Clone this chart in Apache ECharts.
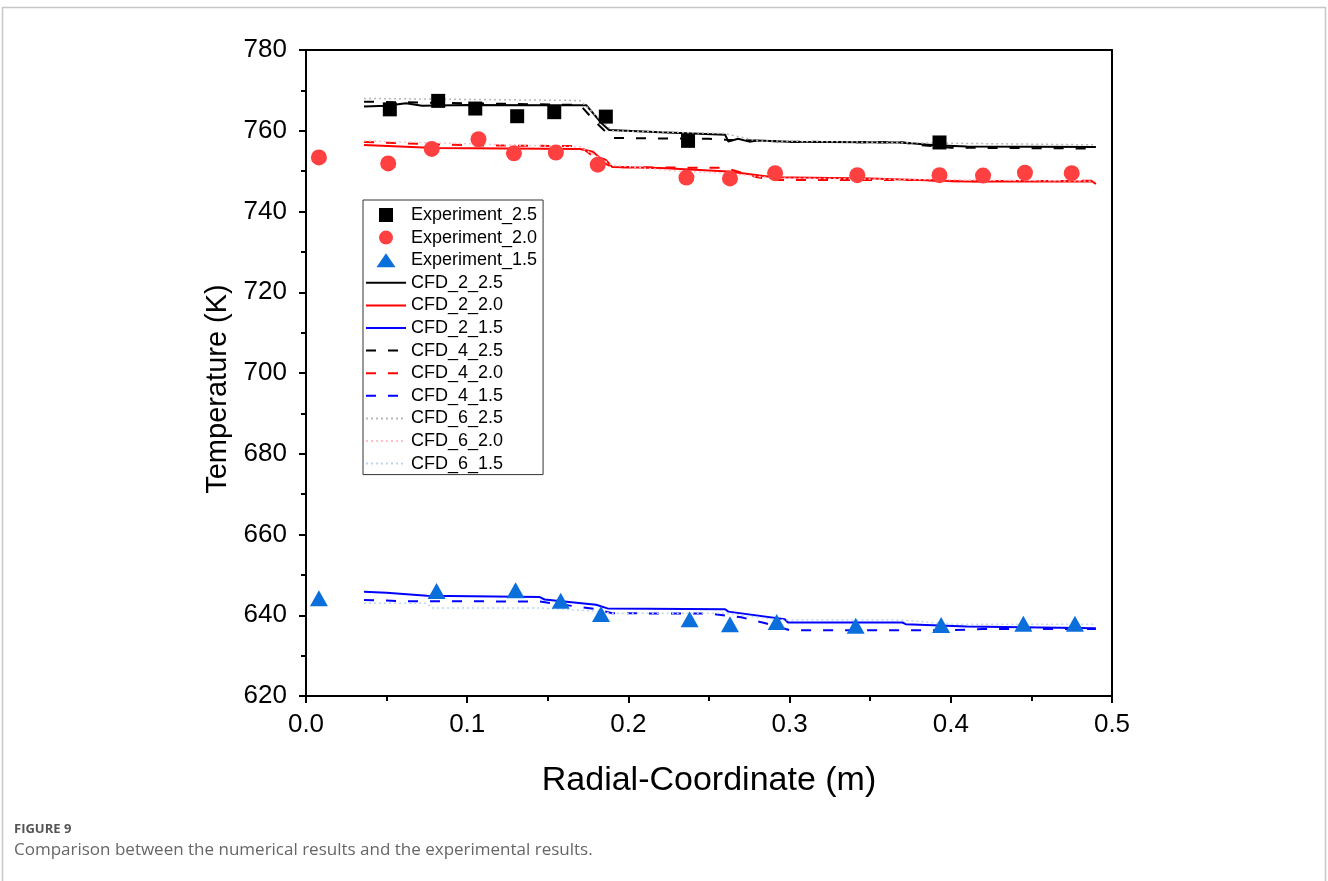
<!DOCTYPE html>
<html>
<head>
<meta charset="utf-8">
<script src="https://cdn.jsdelivr.net/npm/echarts@6/dist/echarts.min.js"></script>
<style>
  html, body { margin: 0; padding: 0; background: #fff; }
  #chart { width: 1328px; height: 881px; }
</style>
</head>
<body>
<div id="chart"></div>
<script>
// Experimental measurements (radial position in m, temperature in K)
const expX_25 = [0.052, 0.082, 0.105, 0.131, 0.154, 0.186, 0.237, 0.393];
const expT_25 = [765.3, 767.4, 765.5, 763.6, 764.6, 763.5, 757.5, 757.1];

const expX_20 = [0.008, 0.051, 0.078, 0.107, 0.129, 0.155, 0.181, 0.236, 0.263, 0.291, 0.342, 0.393, 0.420, 0.446, 0.475];
const expT_20 = [753.4, 751.9, 755.5, 757.9, 754.4, 754.6, 751.6, 748.4, 748.2, 749.5, 749.0, 749.0, 748.9, 749.6, 749.5];

const expX_15 = [0.008, 0.081, 0.130, 0.158, 0.183, 0.238, 0.263, 0.292, 0.341, 0.394, 0.445, 0.477];
const expT_15 = [644.2, 646.0, 646.2, 643.6, 640.3, 639.0, 637.8, 638.3, 637.4, 637.6, 637.9, 637.9];

// CFD profiles, mesh 2
const cfd2X_25 = [0.036, 0.05, 0.062, 0.072, 0.10, 0.15, 0.174, 0.183, 0.188, 0.22, 0.26, 0.262, 0.268, 0.275, 0.28, 0.30, 0.37, 0.39, 0.41, 0.49];
const cfd2T_25 = [766.0, 766.2, 766.8, 766.2, 766.4, 766.3, 766.3, 762.0, 760.2, 759.6, 759.0, 757.3, 758.0, 757.3, 757.6, 757.3, 757.1, 756.4, 756.1, 756.0];
const cfd2X_20 = [0.036, 0.08, 0.17, 0.178, 0.182, 0.186, 0.19, 0.22, 0.262, 0.29, 0.35, 0.41, 0.488, 0.49];
const cfd2T_20 = [756.5, 755.7, 755.5, 754.8, 753.4, 752.8, 751.0, 750.8, 749.9, 748.5, 748.2, 747.4, 747.4, 746.8];
const cfd2X_15 = [0.036, 0.05, 0.075, 0.145, 0.148, 0.18, 0.187, 0.26, 0.262, 0.297, 0.299, 0.37, 0.372, 0.41, 0.49];
const cfd2T_15 = [645.8, 645.6, 644.8, 644.5, 643.9, 642.6, 641.7, 641.5, 640.9, 639.0, 638.2, 638.2, 637.8, 637.2, 636.8];

// CFD profiles, mesh 4
const cfd4X_25 = [0.036, 0.10, 0.17, 0.18, 0.19, 0.25, 0.26, 0.30, 0.37, 0.38, 0.40, 0.49];
const cfd4T_25 = [767.2, 766.8, 766.4, 762.0, 758.2, 758.0, 757.8, 757.3, 757.1, 756.5, 755.8, 755.6];
const cfd4X_20 = [0.036, 0.10, 0.17, 0.18, 0.19, 0.26, 0.28, 0.29, 0.38, 0.40, 0.49];
const cfd4T_20 = [757.2, 756.4, 756.2, 753.0, 751.0, 750.8, 748.5, 747.8, 747.8, 747.5, 747.6];
const cfd4X_15 = [0.036, 0.06, 0.145, 0.18, 0.19, 0.25, 0.27, 0.285, 0.30, 0.40, 0.42, 0.49];
const cfd4T_15 = [643.8, 643.5, 643.4, 641.5, 640.5, 640.4, 639.5, 638.0, 636.3, 636.3, 636.6, 636.6];

// CFD profiles, mesh 6
const cfd6X_25 = [0.036, 0.17, 0.19, 0.26, 0.28, 0.38, 0.49];
const cfd6T_25 = [768.0, 767.5, 760.0, 759.3, 757.5, 757.0, 756.5];
const cfd6X_20 = [0.036, 0.17, 0.19, 0.23, 0.26, 0.29, 0.49];
const cfd6T_20 = [757.5, 756.0, 751.5, 750.0, 749.5, 748.3, 747.5];
const cfd6X_15 = [0.036, 0.075, 0.078, 0.145, 0.18, 0.19, 0.26, 0.29, 0.30, 0.37, 0.40, 0.49];
const cfd6T_15 = [643.0, 643.0, 641.8, 641.8, 641.0, 640.5, 640.5, 639.0, 638.8, 638.8, 637.8, 637.8];

const xTicks = { min: 0, max: 0.5, interval: 0.1 };
const yTicks = { min: 620, max: 780, interval: 20 };

const pairs = (xs, ys) => xs.map((x, i) => [x, ys[i]]);

const FONT = '"Liberation Sans", Arial, sans-serif';
const CAPTION_FONT = '"Open Sans", "Noto Sans", sans-serif';
const RED = '#ff4040';
const BLUE_MARK = '#0b6fdb';

// Marker shapes that keep their proportions inside the legend box
const SQUARE_ICON = 'path://M0,0H10V10H0Z';
const TRIANGLE_ICON = 'path://M0,14L9.5,0L19,14Z';

function scatter(name, xs, ys, symbol, size, color) {
  return {
    name, type: 'scatter', data: pairs(xs, ys), symbol, symbolSize: size,
    itemStyle: { color, opacity: 1 }, z: 5
  };
}
function line(name, xs, ys, color, type, width) {
  return {
    name, type: 'line', data: pairs(xs, ys), symbol: 'none', showSymbol: false,
    lineStyle: { color, type, width }, itemStyle: { color }, z: 3
  };
}

const DASH = [10, 12];
const DOT = [2, 3];

const lineNames = ['CFD_2_2.5', 'CFD_2_2.0', 'CFD_2_1.5',
  'CFD_4_2.5', 'CFD_4_2.0', 'CFD_4_1.5',
  'CFD_6_2.5', 'CFD_6_2.0', 'CFD_6_1.5'];

const chart = echarts.init(document.getElementById('chart'), null, { renderer: 'canvas' });
chart.setOption({
  animation: false,
  backgroundColor: '#fff',
  textStyle: { fontFamily: FONT },
  grid: { left: 306, right: 216, top: 50, bottom: 185, containLabel: false },
  legend: {
    orient: 'vertical', left: 363, top: 200,
    itemWidth: 40, itemHeight: 14, itemGap: 4.6,
    padding: [6, 6, 2, 2],
    borderColor: '#333', borderWidth: 1, backgroundColor: '#fff',
    textStyle: { fontSize: 18, color: '#000', fontFamily: FONT },
    data: [
      { name: 'Experiment_2.5', icon: SQUARE_ICON },
      { name: 'Experiment_2.0', icon: 'circle' },
      { name: 'Experiment_1.5', icon: TRIANGLE_ICON }
    ].concat(lineNames.map(n => ({ name: n, itemStyle: { opacity: 0 } })))
  },
  xAxis: [{
    type: 'value', min: xTicks.min, max: xTicks.max, interval: xTicks.interval,
    name: 'Radial-Coordinate (m)', nameLocation: 'middle', nameGap: 68,
    nameTextStyle: { fontSize: 34, color: '#000', fontFamily: FONT },
    axisLine: { show: true, onZero: false, lineStyle: { color: '#000', width: 2 } },
    axisTick: { show: true, inside: false, length: 7, lineStyle: { color: '#000', width: 2 } },
    minorTick: { show: true, splitNumber: 2, length: 5, lineStyle: { color: '#000', width: 2 } },
    axisLabel: { fontSize: 26, color: '#000', margin: 16, formatter: v => v.toFixed(1) },
    splitLine: { show: false }
  }, {
    type: 'value', position: 'top', min: xTicks.min, max: xTicks.max,
    axisLine: { show: true, onZero: false, lineStyle: { color: '#000', width: 2 } },
    axisTick: { show: false }, axisLabel: { show: false }, splitLine: { show: false }
  }],
  yAxis: [{
    type: 'value', min: yTicks.min, max: yTicks.max, interval: yTicks.interval,
    name: 'Temperature (K)', nameLocation: 'middle', nameGap: 74,
    nameTextStyle: { fontSize: 29, color: '#000', fontFamily: FONT, padding: [0, 32, 0, 0] },
    axisLine: { show: true, onZero: false, lineStyle: { color: '#000', width: 2 } },
    axisTick: { show: true, inside: false, length: 7, lineStyle: { color: '#000', width: 2 } },
    minorTick: { show: true, splitNumber: 2, length: 5, lineStyle: { color: '#000', width: 2 } },
    axisLabel: { fontSize: 26, color: '#000', margin: 19 },
    splitLine: { show: false }
  }, {
    type: 'value', position: 'right', min: yTicks.min, max: yTicks.max,
    axisLine: { show: true, onZero: false, lineStyle: { color: '#000', width: 2 } },
    axisTick: { show: false }, axisLabel: { show: false }, splitLine: { show: false }
  }],
  series: [
    line('CFD_2_2.5', cfd2X_25, cfd2T_25, '#000000', 'solid', 2),
    line('CFD_2_2.0', cfd2X_20, cfd2T_20, '#ff0000', 'solid', 2),
    line('CFD_2_1.5', cfd2X_15, cfd2T_15, '#0000ff', 'solid', 2),
    line('CFD_4_2.5', cfd4X_25, cfd4T_25, '#000000', DASH, 2),
    line('CFD_4_2.0', cfd4X_20, cfd4T_20, '#ff0000', DASH, 2),
    line('CFD_4_1.5', cfd4X_15, cfd4T_15, '#0000ff', DASH, 2),
    line('CFD_6_2.5', cfd6X_25, cfd6T_25, '#b8b8b8', DOT, 1.5),
    line('CFD_6_2.0', cfd6X_20, cfd6T_20, '#ffc0cb', DOT, 1.5),
    line('CFD_6_1.5', cfd6X_15, cfd6T_15, '#bcd6f2', DOT, 1.5),
    scatter('Experiment_2.5', expX_25, expT_25, 'rect', 14, '#000000'),
    scatter('Experiment_2.0', expX_20, expT_20, 'circle', 16, RED),
    scatter('Experiment_1.5', expX_15, expT_15, 'triangle', [18, 16], BLUE_MARK)
  ],
  graphic: [
    { type: 'rect', silent: true, shape: { x: 2.5, y: 7.5, width: 1323, height: 890 },
      style: { fill: 'none', stroke: '#c6c6c6', lineWidth: 1.5 }, z: -10 },
    { type: 'text', left: 14, top: 823,
      style: { text: 'FIGURE 9', fontSize: 13, fontWeight: 'bold', fill: '#555', fontFamily: CAPTION_FONT } },
    { type: 'text', left: 14, top: 842,
      style: { text: 'Comparison between the numerical results and the experimental results.', fontSize: 17, fill: '#666', fontFamily: CAPTION_FONT } }
  ]
});
</script>
</body>
</html>
